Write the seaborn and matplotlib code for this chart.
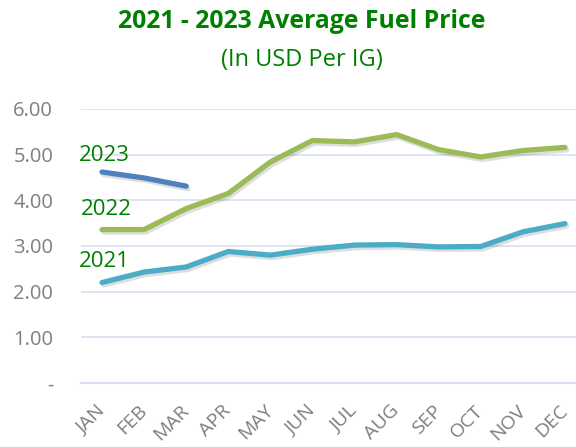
import matplotlib
matplotlib.use("Agg")
import matplotlib.pyplot as plt
import matplotlib.patheffects as pe
import seaborn as sns
import pandas as pd
import numpy as np

months = ["JAN", "FEB", "MAR", "APR", "MAY", "JUN", "JUL", "AUG", "SEP", "OCT", "NOV", "DEC"]
y2021 = [2.20, 2.43, 2.54, 2.88, 2.80, 2.93, 3.02, 3.03, 2.98, 2.99, 3.31, 3.49]
y2022 = [3.36, 3.36, 3.82, 4.15, 4.84, 5.31, 5.28, 5.44, 5.11, 4.95, 5.09, 5.16]
y2023 = [4.62, 4.49, 4.31]
yticks = [0, 1, 2, 3, 4, 5, 6]
ytick_labels = ["-", "1.00", "2.00", "3.00", "4.00", "5.00", "6.00"]
series_colors = {"2021": "#4BACC6", "2022": "#9BBB59", "2023": "#4F81BD"}

rows = []
for yr, vals in (("2021", y2021), ("2022", y2022), ("2023", y2023)):
    for i, v in enumerate(vals):
        rows.append({"month": months[i], "pos": i, "price": v, "year": yr})
df = pd.DataFrame(rows)

sns.set_theme(style="white")
plt.rcParams["font.family"] = ["Open Sans", "DejaVu Sans"]

fig = plt.figure(figsize=(5.76, 4.47), dpi=100)
ax = fig.add_axes([81/576, 1 - 383/447, (586-81)/576, (383-109)/447])

shadow = [pe.SimpleLineShadow(offset=(1.2, -1.8), alpha=0.13, shadow_color="black"), pe.Normal()]
sns.lineplot(data=df, x="pos", y="price", hue="year", palette=series_colors,
             linewidth=3.8, ax=ax, legend=False, solid_capstyle="round")
for line in ax.lines:
    line.set_path_effects(shadow)

ax.set_xlim(-0.5, 11.5)
ax.set_ylim(0, 6)
ax.set_yticks(yticks)
ax.set_yticklabels(ytick_labels)
ax.set_xticks(range(12))
ax.set_xticklabels(months)
ax.set_xticks(np.arange(-0.5, 11.6, 1), minor=True)
ax.tick_params(axis="x", which="major", length=0, pad=18, labelsize=14, colors="#7F7F7F")
ax.tick_params(axis="x", which="minor", length=6, width=1.5, color="#D6E0F0", direction="out")
ax.tick_params(axis="y", length=0, pad=20, labelsize=14.5, colors="#7F7F7F")
for lbl in ax.get_xticklabels():
    lbl.set_rotation(45)
    lbl.set_rotation_mode("anchor")
    lbl.set_ha("right")
    lbl.set_va("center")
ax.grid(axis="y", color="#DAE3F3", linewidth=1.3)
ax.set_axisbelow(True)
for s in ["top", "right", "left"]:
    ax.spines[s].set_visible(False)
ax.spines["bottom"].set_color("#D6E0F0")
ax.spines["bottom"].set_linewidth(1.5)
ax.set_xlabel("")
ax.set_ylabel("")

green = "#008000"
ax.text(-0.55, 4.98, "2023", color=green, fontsize=16, ha="left", va="center")
ax.text(-0.5, 3.8, "2022", color=green, fontsize=16, ha="left", va="center")
ax.text(-0.55, 2.65, "2021", color=green, fontsize=16, ha="left", va="center")

fig.text(302/576, 1 - 22/447, "2021 - 2023 Average Fuel Price", color=green,
         fontsize=17.8, fontweight="bold", ha="center", va="center")
fig.text(302/576, 1 - 60/447, "(In USD Per IG)", color=green,
         fontsize=17, ha="center", va="center")

fig.savefig("out.png", dpi=100)
